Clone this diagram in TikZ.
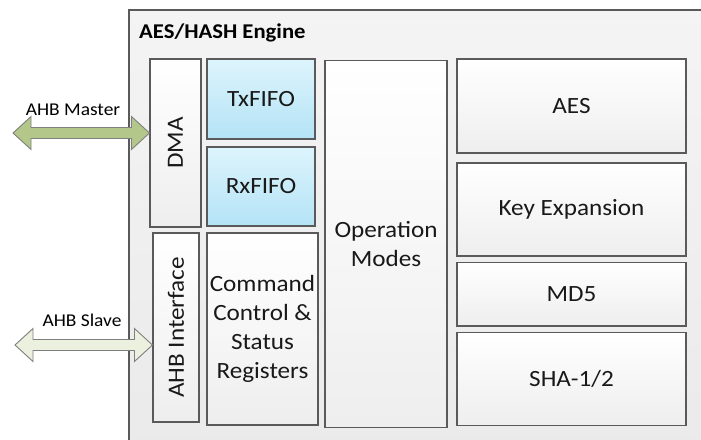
\documentclass[tikz,border=0pt]{standalone}
\usepackage{fontspec}
\setmainfont[FakeStretch=1.08]{Carlito}
\usetikzlibrary{calc}
\definecolor{edge}{HTML}{5A5A5A}
\definecolor{outerfill}{HTML}{EFEFEF}
\definecolor{boxtop}{HTML}{FFFFFF}
\definecolor{boxbot}{HTML}{EEEEEE}
\definecolor{fifotop}{HTML}{DDF4FC}
\definecolor{fifobot}{HTML}{B4E3F6}
\definecolor{mastergreen}{HTML}{B3C78A}
\definecolor{slavegreen}{HTML}{EBF1DE}
\definecolor{arrowedge}{HTML}{7F7F7F}
\tikzset{
  blockbox/.style={draw=edge, line width=1.1pt, top color=boxtop, bottom color=boxbot, inner sep=0pt, align=center, font=\fontsize{23.3}{29}\selectfont, text=black!90},
  fifobox/.style={blockbox, top color=fifotop, bottom color=fifobot},
  busarrow/.style={draw=arrowedge, line width=0.9pt, line join=miter},
  buslabel/.style={font=\fontsize{18}{20}\selectfont, inner sep=0pt}
}
\begin{document}
\begin{tikzpicture}[x=1pt, y=-1pt]
\useasboundingbox (0,0) rectangle (701,439);
% outer engine box
\path[top color=outerfill!70!white, bottom color=outerfill!90!black!20!outerfill] (129,10) rectangle (710,450);
\draw[edge, line width=1.1pt] (710,10) -- (129,10) -- (129,450);
\node[anchor=west, font=\bfseries\fontsize{21}{24}\selectfont, inner sep=0pt] (title) at (139,33) {AES/HASH Engine};
% blocks
\node[blockbox, minimum width=51pt, minimum height=168pt] (dma) at (175.5,143) {\rotatebox{90}{DMA}};
\node[fifobox, minimum width=108pt, minimum height=80pt] (tx) at (261,99) {TxFIFO};
\node[fifobox, minimum width=108pt, minimum height=79pt] (rx) at (261,186.5) {RxFIFO};
\node[blockbox, minimum width=46pt, minimum height=189pt] (ahbi) at (176,327.5) {\rotatebox{90}{AHB Interface}};
\node[blockbox, minimum width=111pt, minimum height=192pt] (cmd) at (262.5,329) {Command\\Control \&\\Status\\Registers};
\node[blockbox, minimum width=122pt, minimum height=366.7pt] (op) at (386,244) {Operation\\Modes};
\node[blockbox, minimum width=229pt, minimum height=94pt] (aes) at (571.5,106) {AES};
\node[blockbox, minimum width=229pt, minimum height=93pt] (key) at (571.5,209.5) {Key Expansion};
\node[blockbox, minimum width=229pt, minimum height=63.3pt] (md5) at (571.5,294.3) {MD5};
\node[blockbox, minimum width=229pt, minimum height=93pt] (sha) at (571.5,379.2) {SHA-1/2};
% bus arrows
\coordinate (mL) at (13,133);
\coordinate (mR) at (dma.west |- mL);
\draw[busarrow, fill=mastergreen] (mL) -- ($(mL)+(18,-16.5)$) -- ($(mL)+(18,-5.5)$) -- ($(mR)+(-18,-5.5)$) -- ($(mR)+(-18,-16.5)$) -- (mR) -- ($(mR)+(-18,16.5)$) -- ($(mR)+(-18,5.5)$) -- ($(mL)+(18,5.5)$) -- ($(mL)+(18,16.5)$) -- cycle;
\node[buslabel] (mlab) at (73,110) {AHB Master};
\coordinate (sL) at (15,345);
\coordinate (sR) at (ahbi.west |- sL);
\draw[busarrow, fill=slavegreen] (sL) -- ($(sL)+(18,-16.5)$) -- ($(sL)+(18,-5.5)$) -- ($(sR)+(-18,-5.5)$) -- ($(sR)+(-18,-16.5)$) -- (sR) -- ($(sR)+(-18,16.5)$) -- ($(sR)+(-18,5.5)$) -- ($(sL)+(18,5.5)$) -- ($(sL)+(18,16.5)$) -- cycle;
\node[buslabel] (slab) at (82,320) {AHB Slave};
\end{tikzpicture}
\end{document}
